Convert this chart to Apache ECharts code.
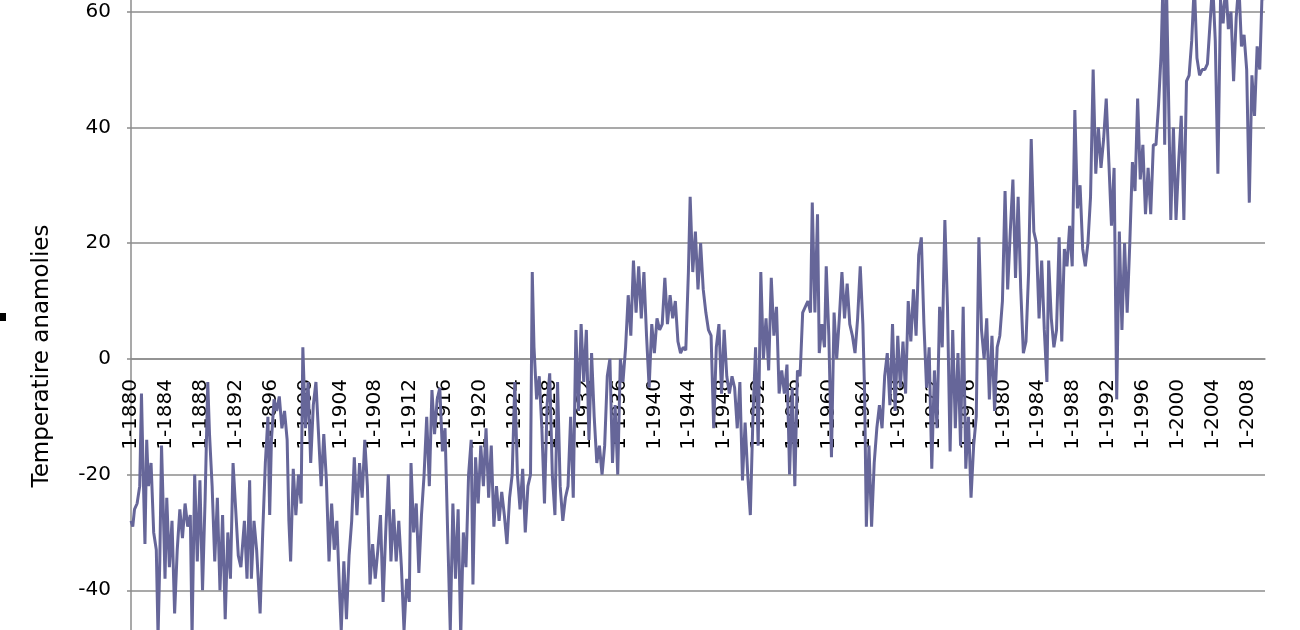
<!DOCTYPE html>
<html><head><meta charset="utf-8">
<script src="https://cdn.jsdelivr.net/npm/echarts@6/dist/echarts.min.js"></script>
<style>html,body{margin:0;padding:0;background:#fff;overflow:hidden}#c{width:1300px;height:630px}</style>
</head><body><div id="c"></div>
<script>
// Time of each reading (decimal year) and the anomaly
const years = [
1880.0,1880.2,1880.4,1880.7,1881.0,1881.2,1881.4,1881.6,1881.8,1882.0,1882.3,1882.6,1882.9,1883.1,1883.3,1883.5,1883.7,1883.9,
1884.1,1884.4,1884.7,1885.0,1885.3,1885.6,1885.9,1886.2,1886.5,1886.8,1887.0,1887.3,1887.6,1887.9,1888.2,1888.5,1888.8,1889.0,
1889.3,1889.6,1889.9,1890.2,1890.5,1890.8,1891.1,1891.4,1891.7,1892.0,1892.3,1892.6,1893.0,1893.3,1893.6,1893.8,1894.1,1894.4,
1894.8,1895.1,1895.4,1895.7,1895.9,1896.1,1896.4,1896.7,1897.0,1897.3,1897.6,1897.9,1898.1,1898.3,1898.6,1898.9,1899.2,1899.5,
1899.7,1900.0,1900.3,1900.6,1900.9,1901.2,1901.5,1901.8,1902.1,1902.4,1902.7,1903.0,1903.3,1903.6,1903.9,1904.1,1904.4,1904.7,
1905.0,1905.3,1905.6,1905.9,1906.2,1906.5,1906.8,1907.1,1907.4,1907.7,1908.0,1908.3,1908.6,1908.9,1909.2,1909.5,1909.8,1910.1,
1910.4,1910.7,1911.0,1911.3,1911.6,1911.9,1912.1,1912.4,1912.7,1913.0,1913.3,1913.6,1913.9,1914.2,1914.5,1914.8,1915.1,1915.4,
1915.7,1916.0,1916.3,1916.6,1916.9,1917.2,1917.5,1917.8,1918.1,1918.4,1918.7,1919.0,1919.2,1919.5,1919.8,1920.1,1920.4,1920.7,
1921.0,1921.3,1921.6,1921.9,1922.2,1922.5,1922.8,1923.1,1923.4,1923.7,1924.0,1924.3,1924.6,1924.9,1925.2,1925.5,1925.8,1926.0,
1926.2,1926.5,1926.8,1927.1,1927.4,1927.7,1928.0,1928.3,1928.6,1928.9,1929.2,1929.5,1929.8,1930.1,1930.4,1930.7,1931.0,1931.3,
1931.6,1931.9,1932.2,1932.5,1932.8,1933.1,1933.4,1933.7,1934.0,1934.3,1934.6,1934.9,1935.2,1935.5,1935.8,1936.1,1936.4,1936.7,
1937.0,1937.3,1937.6,1937.9,1938.2,1938.5,1938.8,1939.1,1939.4,1939.7,1940.0,1940.3,1940.6,1940.9,1941.2,1941.5,1941.8,1942.1,
1942.4,1942.7,1943.0,1943.3,1943.6,1943.9,1944.1,1944.4,1944.7,1945.0,1945.3,1945.6,1945.9,1946.2,1946.5,1946.8,1947.1,1947.4,
1947.7,1948.0,1948.3,1948.6,1948.9,1949.2,1949.5,1949.8,1950.1,1950.4,1950.7,1951.0,1951.3,1951.6,1951.9,1952.2,1952.5,1952.8,
1953.1,1953.4,1953.7,1954.0,1954.3,1954.6,1954.9,1955.2,1955.5,1955.8,1956.1,1956.4,1956.7,1957.0,1957.3,1957.6,1957.9,1958.1,
1958.4,1958.7,1958.9,1959.2,1959.5,1959.7,1960.0,1960.3,1960.6,1960.9,1961.2,1961.5,1961.8,1962.1,1962.4,1962.7,1963.0,1963.3,
1963.6,1963.9,1964.1,1964.3,1964.6,1964.9,1965.2,1965.5,1965.8,1966.1,1966.4,1966.7,1967.0,1967.3,1967.6,1967.9,1968.2,1968.5,
1968.8,1969.1,1969.4,1969.7,1970.0,1970.3,1970.6,1970.9,1971.2,1971.5,1971.8,1972.1,1972.4,1972.7,1973.0,1973.3,1973.6,1973.9,
1974.2,1974.5,1974.8,1975.1,1975.4,1975.7,1976.0,1976.3,1976.6,1976.9,1977.2,1977.5,1977.8,1978.1,1978.4,1978.7,1979.0,1979.3,
1979.6,1979.9,1980.2,1980.5,1980.8,1981.1,1981.4,1981.7,1982.0,1982.3,1982.6,1982.9,1983.2,1983.5,1983.8,1984.1,1984.4,1984.7,
1985.0,1985.2,1985.5,1985.8,1986.1,1986.4,1986.7,1987.0,1987.3,1987.6,1987.9,1988.2,1988.5,1988.8,1989.1,1989.4,1989.7,1990.0,
1990.3,1990.6,1990.9,1991.2,1991.5,1991.8,1992.1,1992.4,1992.7,1993.0,1993.3,1993.6,1993.9,1994.2,1994.5,1994.8,1995.1,1995.4,
1995.7,1996.0,1996.3,1996.6,1996.9,1997.2,1997.5,1997.8,1998.1,1998.3,1998.5,1998.7,1998.9,1999.2,1999.5,1999.8,2000.1,2000.4,
2000.7,2001.0,2001.3,2001.6,2001.9,2002.2,2002.5,2002.8,2003.1,2003.4,2003.7,2004.0,2004.3,2004.6,2004.9,2005.2,2005.5,2005.8,
2006.1,2006.4,2006.7,2007.0,2007.3,2007.6,2007.9,2008.2,2008.5,2008.8,2009.1,2009.4,2009.7,2009.9
];
const anomalies = [
-28,-29,-26,-25,-22,-6,-20,-32,-14,-22,-18,-30,-33,-48,-35,-15,-26,-38,
-24,-36,-28,-44,-33,-26,-31,-25,-29,-27,-48,-20,-35,-21,-40,-24,-4,-13,
-22,-35,-24,-40,-27,-45,-30,-38,-18,-26,-34,-36,-28,-38,-21,-38,-28,-33,
-44,-30,-18,-10,-27,-14,-7,-9,-6.5,-12,-9,-14,-28,-35,-19,-27,-20,-25,
2,-12,-4,-18,-8,-4,-13,-22,-13,-21,-35,-25,-33,-28,-40,-47,-35,-45,
-34,-28,-17,-27,-18,-24,-14,-22,-39,-32,-38,-33,-27,-42,-30,-20,-35,-26,
-35,-28,-36,-47,-38,-42,-18,-30,-25,-37,-27,-20,-10,-22,-5.4,-13,-7,-5,
-16,-12,-30,-47,-25,-38,-26,-48,-30,-36,-20,-14,-39,-17,-25,-15,-22,-12,
-24,-15,-29,-22,-28,-23,-27,-32,-24,-20,-4,-20,-26,-19,-30,-22,-20,15,
2,-7,-3,-12,-25,-8,-2.5,-20,-27,-4,-22,-28,-24,-22,-10,-24,5,-9,
6,-4,5,-14,1,-10,-18,-15,-20,-15,-3,0,-18,-8,-20,0,-4,2,
11,4,17,8,16,7,15,4,-5,6,1,7,5,6,14,6,11,7,
10,3,1,2,1.5,15,28,15,22,12,20,12,8,5,4,-12,2,6,
-6,5,-3,-6,-3,-5,-12,-4,-21,-11,-20,-27,-10,2,-15,15,0,7,
-2,14,4,9,-6,-2,-6,-1,-20,-5,-22,-2,-3,8,9,10,8,27,
8,25,1,6,2,16,4,-17,8,0,7,15,7,13,6,4,1,7,
16,6,-6,-29,-15,-29,-18,-12,-8,-12,-3,1,-8,6,-9,4,-5,3,
-6,10,3,12,4,18,21,6,-5,2,-19,-2,-12,9,2,24,9,-16,
5,-12,1,-15,9,-19,-10,-24,-15,-10,21,5,0,7,-7,4,-9,2,
4,10,29,12,22,31,14,28,12,1,3,15,38,22,20,7,17,5,
-4,17,7,2,5,21,3,19,16,23,16,43,26,30,19,16,20,28,
50,32,40,33,38,45,34,23,33,-7,22,5,20,8,20,34,29,45,
31,37,25,33,25,37,37,44,53,65,37,65,49,24,40,24,34,42,
24,48,49,55,65,52,49,50,50,51,58,65,55,32,62,58,65,57,
60,48,59,65,54,56,50,27,49,42,54,50,65,62
];
const yTitle = 'Temperatire anamolies';
const xLabelPrefix = '1-';

const chart = echarts.init(document.getElementById('c'), null, {renderer: 'canvas'});
chart.setOption({
  animation: false,
  backgroundColor: '#ffffff',
  grid: {left: 131, width: 1134, top: -104, height: 810, containLabel: false, outerBoundsMode: 'none'},
  xAxis: {
    type: 'value', min: 1880, max: 2010, interval: 4, z: 0,
    position: 'bottom', offset: -347,
    axisLine: {onZero: false, lineStyle: {color: '#8c8c8c', width: 1.5}},
    axisTick: {show: false},
    splitLine: {show: false},
    axisLabel: {rotate: 90, margin: 20, showMinLabel: true, showMaxLabel: false, hideOverlap: false,
      padding: [8, 0, 0, 0],
      formatter: v => xLabelPrefix + v, color: '#000', fontFamily: 'DejaVu Sans', fontSize: 20}
  },
  yAxis: {
    type: 'value', min: -60, max: 80, interval: 20, z: 0,
    axisLine: {show: true, onZero: false, lineStyle: {color: '#8c8c8c', width: 1.5}},
    axisTick: {show: true, length: 4, lineStyle: {color: '#8c8c8c', width: 1.5}},
    splitLine: {show: true, lineStyle: {color: '#8c8c8c', width: 1.5}},
    axisLabel: {margin: 20, color: '#000', fontFamily: 'DejaVu Sans', fontSize: 20}
  },
  graphic: [
    {type: 'text', x: 42, y: 356, rotation: Math.PI / 2,
      style: {text: yTitle, fill: '#000', font: '23px "DejaVu Sans"', align: 'center', verticalAlign: 'middle'}},
    {type: 'rect', shape: {x: 0, y: 313, width: 6, height: 8}, style: {fill: '#000'}}
  ],
  series: [{
    type: 'line', showSymbol: false, clip: true, z: 5,
    data: years.map((y, i) => [y, anomalies[i]]),
    lineStyle: {color: '#666699', width: 3}
  }]
});
</script></body></html>
